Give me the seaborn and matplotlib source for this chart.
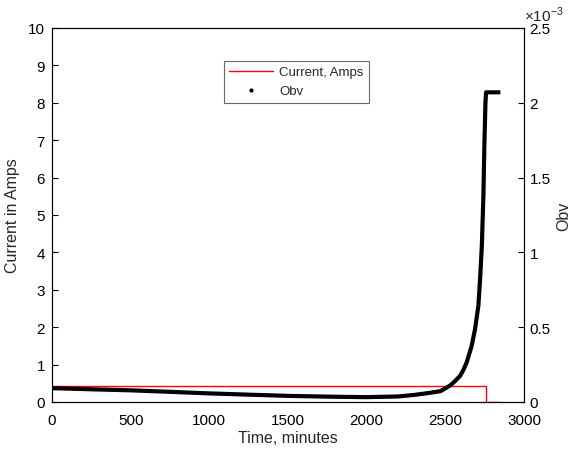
import numpy as np
import pandas as pd
import matplotlib
matplotlib.use("Agg")
import matplotlib.pyplot as plt
import seaborn as sns
from matplotlib.lines import Line2D
from matplotlib.ticker import FuncFormatter

# Current, Amps (step)
cur_time = [0, 2761, 2761, 2850]
cur_amps = [0.435, 0.435, 0.0, 0.0]

# Obv observations
obv_time = [0, 250, 500, 750, 1000, 1250, 1500, 1800, 2000, 2200, 2300, 2400, 2470,
            2530, 2560, 2594, 2615, 2636, 2668, 2689, 2710, 2721, 2732, 2742, 2748, 2755, 2759, 2850]
obv_val = [0.0925e-3, 0.085e-3, 0.078e-3, 0.068e-3, 0.0575e-3, 0.049e-3, 0.041e-3, 0.035e-3,
           0.0325e-3, 0.037e-3, 0.047e-3, 0.061e-3, 0.0725e-3,
           0.110e-3, 0.138e-3, 0.175e-3, 0.215e-3, 0.265e-3, 0.378e-3, 0.488e-3, 0.643e-3,
           0.823e-3, 1.045e-3, 1.38e-3, 1.71e-3, 2.0e-3, 2.07e-3, 2.07e-3]

xticks = [0, 500, 1000, 1500, 2000, 2500, 3000]
left_ticks = list(range(0, 11))
right_ticks = [0, 0.5e-3, 1e-3, 1.5e-3, 2e-3, 2.5e-3]

sns.set_style("white")
plt.rcParams['font.family'] = ['Liberation Sans', 'DejaVu Sans']
plt.rcParams['mathtext.fontset'] = 'custom'
plt.rcParams['mathtext.rm'] = 'Liberation Sans'

fig = plt.figure(figsize=(5.74, 4.52), dpi=100)
ax = fig.add_axes([52/574, 49/452, 472/574, 374/452])
ax2 = ax.twinx()

cur_df = pd.DataFrame({"t": cur_time, "a": cur_amps})
obv_df = pd.DataFrame({"t": obv_time, "o": obv_val})

sns.lineplot(data=cur_df, x="t", y="a", ax=ax, color="red", lw=1.0, sort=False, estimator=None)
sns.lineplot(data=obv_df, x="t", y="o", ax=ax2, color="black", lw=3.0, sort=False, estimator=None,
             solid_capstyle="butt", solid_joinstyle="round")

ax.set_xlim(0, 3000)
ax.set_ylim(0, 10)
ax2.set_ylim(0, 2.5e-3)
ax.set_xticks(xticks)
ax.set_yticks(left_ticks)
ax2.set_yticks(right_ticks)
ax2.yaxis.set_major_formatter(FuncFormatter(lambda v, p: f"{v*1e3:g}"))

for a in (ax, ax2):
    for s in a.spines.values():
        s.set_color("black")
        s.set_linewidth(0.8)
    a.tick_params(direction="in", length=4, width=0.8, labelsize=11, colors="black")
ax.tick_params(axis="x", pad=8)
ax.tick_params(axis="y", pad=5)
ax2.tick_params(axis="y", pad=4)

ax.set_xlabel("Time, minutes", fontsize=11.5, labelpad=2)
ax.set_ylabel("Current in Amps", fontsize=11.5, labelpad=6)
ax2.set_ylabel("Obv", fontsize=11.5, labelpad=4)

ax2.text(1.0, 1.012, r"$\times10^{-3}$", transform=ax2.transAxes, fontsize=11, ha="left", va="bottom")

handles = [Line2D([0], [0], color="red", lw=1.0),
           Line2D([0], [0], color="black", marker=".", markersize=4, lw=0)]
leg = ax.legend(handles, ["Current, Amps", "Obv"], loc="upper center", bbox_to_anchor=(0.518, 0.912),
                borderaxespad=0, frameon=True, fancybox=False, fontsize=9.5, handlelength=3.3,
                borderpad=0.4, labelspacing=0.5, handletextpad=0.5)
leg.get_frame().set_edgecolor("#444444")
leg.get_frame().set_linewidth(0.8)

fig.savefig("out.png", dpi=100)
